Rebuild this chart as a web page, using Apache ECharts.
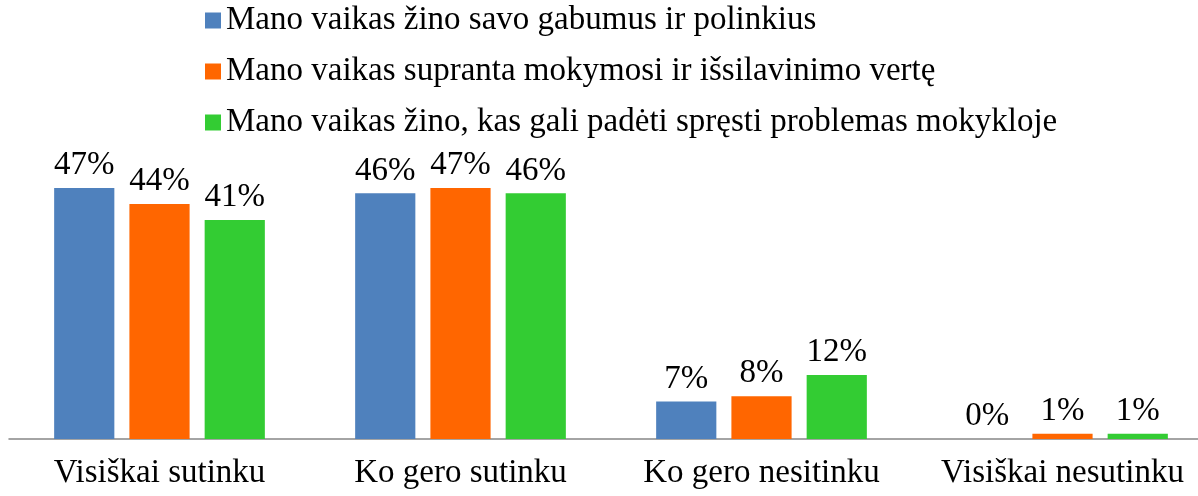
<!DOCTYPE html>
<html>
<head>
<meta charset="utf-8">
<script src="https://cdn.jsdelivr.net/npm/echarts@6/dist/echarts.min.js"></script>
<style>
  html, body { margin: 0; padding: 0; background: #fff; overflow: hidden; }
  #chart { width: 1216px; height: 496px; }
</style>
</head>
<body>
<div id="chart"></div>
<script>
const categories = ['Visiškai sutinku', 'Ko gero sutinku', 'Ko gero nesitinku', 'Visiškai nesutinku'];
const seriesNames = [
  'Mano vaikas žino savo gabumus ir polinkius',
  'Mano vaikas supranta mokymosi ir išsilavinimo vertę',
  'Mano vaikas žino, kas gali padėti spręsti problemas mokykloje'
];
const gabumai = [47, 46, 7, 0];
const verte = [44, 47, 8, 1];
const problemos = [41, 46, 12, 1];
const colors = ['#4F81BD', '#FF6600', '#33CC33'];

const font = '"Liberation Serif", "Times New Roman", serif';

function makeSeries(name, data, color) {
  return {
    name,
    type: 'bar',
    data,
    barWidth: '20%',
    barGap: '25%',
    itemStyle: { color },
    label: {
      show: true,
      position: 'top',
      distance: 6,
      formatter: '{c}%',
      fontFamily: font,
      fontSize: 33,
      color: '#000'
    }
  };
}

const chart = echarts.init(document.getElementById('chart'));
chart.setOption({
  animation: false,
  textStyle: { fontFamily: font },
  legend: {
    orient: 'vertical',
    left: 200,
    top: -1,
    itemWidth: 16,
    itemHeight: 16,
    itemGap: 18,
    icon: 'rect',
    textStyle: { fontFamily: font, fontSize: 33, color: '#000', lineHeight: 33 },
    data: seriesNames
  },
  grid: { left: 9, right: 3, top: 172, bottom: 57 },
  xAxis: {
    type: 'category',
    data: categories,
    axisLine: { lineStyle: { color: '#868686', width: 1.5 } },
    axisTick: { show: false },
    axisLabel: { interval: 0, fontFamily: font, fontSize: 33, color: '#000', margin: 18 }
  },
  yAxis: {
    type: 'value',
    min: 0,
    max: 50,
    show: false,
    splitLine: { show: false }
  },
  series: [
    makeSeries(seriesNames[0], gabumai, colors[0]),
    makeSeries(seriesNames[1], verte, colors[1]),
    makeSeries(seriesNames[2], problemos, colors[2])
  ]
});
</script>
</body>
</html>
